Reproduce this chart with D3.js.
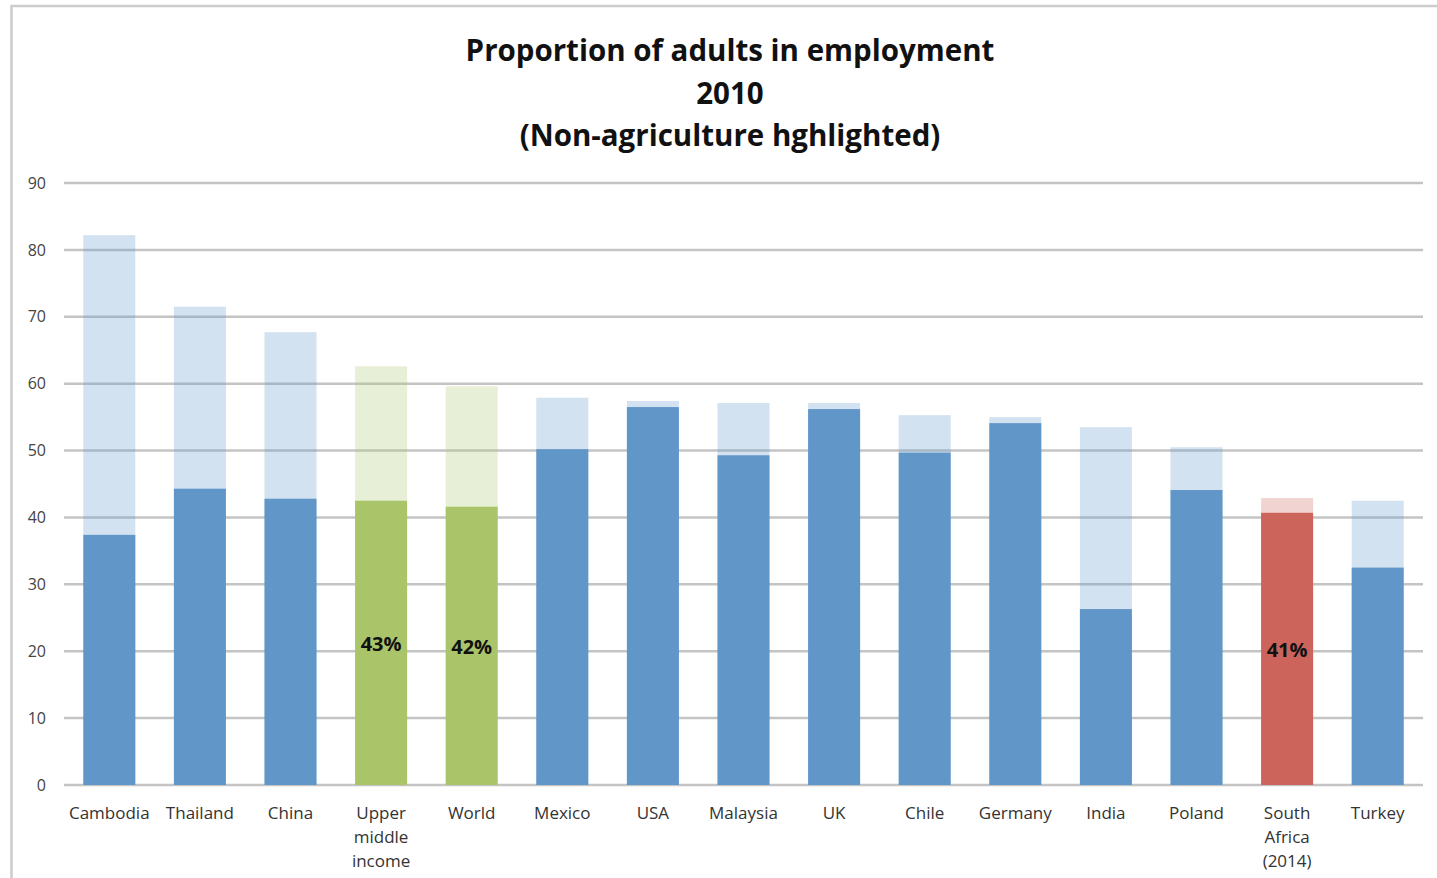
<!DOCTYPE html>
<html><head><meta charset="utf-8">
<script src="https://cdn.jsdelivr.net/npm/d3@7"></script>
<style>
html,body{margin:0;padding:0;background:#fff;}
svg{display:block;}
</style></head>
<body>
<svg id="chart" width="1437" height="878"></svg>
<script>
const categories = ["Cambodia","Thailand","China","Upper middle income","World","Mexico","USA","Malaysia","UK","Chile","Germany","India","Poland","South Africa (2014)","Turkey"];
const categoryLines = [["Cambodia"],["Thailand"],["China"],["Upper","middle","income"],["World"],["Mexico"],["USA"],["Malaysia"],["UK"],["Chile"],["Germany"],["India"],["Poland"],["South","Africa","(2014)"],["Turkey"]];
const totalEmployment = [82.2,71.5,67.7,62.6,59.6,57.9,57.4,57.1,57.1,55.3,55.0,53.5,50.5,42.9,42.5];
const nonAgriculture = [37.4,44.3,42.8,42.5,41.6,50.2,56.5,49.3,56.2,49.7,54.1,26.3,44.1,40.7,32.5];
const highlight = ["blue","blue","blue","green","green","blue","blue","blue","blue","blue","blue","blue","blue","red","blue"];
const dataLabels = ["","","","43%","42%","","","","","","","","","41%",""];
const yTicks = [0,10,20,30,40,50,60,70,80,90];
const titleLines = ["Proportion of adults in employment","2010","(Non-agriculture hghlighted)"];

const colors = {blue:"#6096c8", green:"#aac46a", red:"#cc645c"};

const svg = d3.select("#chart");
const plotLeft = 64, plotRight = 1423, plotTop = 183, plotBottom = 785;

// frame
svg.append("rect").attr("x",11.5).attr("y",6).attr("width",1440).attr("height",900)
  .attr("fill","none").attr("stroke","#cccccc").attr("stroke-width",2.5);

const x = d3.scaleBand().domain(categories).range([plotLeft,plotRight]).paddingInner(0.426).paddingOuter(0.213);
const y = d3.scaleLinear().domain([0,90]).range([plotBottom,plotTop]);

// title
svg.append("g").selectAll("text").data(titleLines).join("text")
  .attr("x",730).attr("y",(d,i)=>61+i*42.5)
  .attr("text-anchor","middle")
  .attr("font-family","'Open Sans', sans-serif").attr("font-weight","bold")
  .attr("font-size",29.5).attr("fill","#111")
  .text(d=>d);

// gridlines
svg.append("g").selectAll("line").data(yTicks).join("line")
  .attr("x1",plotLeft).attr("x2",plotRight)
  .attr("y1",d=>y(d)).attr("y2",d=>y(d))
  .attr("stroke","#c4c4c4").attr("stroke-width",2.5);

// y axis labels
const yAxis = d3.axisLeft(y).tickValues(yTicks).tickSize(0).tickPadding(0);
const yg = svg.append("g").attr("transform",`translate(46,0)`).call(yAxis);
yg.select(".domain").remove();
yg.selectAll("text").attr("font-family","'Open Sans', sans-serif").attr("font-size",16).attr("fill","#444");

// total (light) bars
svg.append("g").selectAll("rect").data(categories).join("rect")
  .attr("x",d=>x(d)).attr("width",x.bandwidth())
  .attr("y",(d,i)=>y(totalEmployment[i]))
  .attr("height",(d,i)=>y(0)-y(totalEmployment[i]))
  .attr("fill",(d,i)=>colors[highlight[i]]).attr("fill-opacity",0.28);

// non-agriculture bars
svg.append("g").selectAll("rect").data(categories).join("rect")
  .attr("x",d=>x(d)).attr("width",x.bandwidth())
  .attr("y",(d,i)=>y(nonAgriculture[i]))
  .attr("height",(d,i)=>y(0)-y(nonAgriculture[i]))
  .attr("fill",(d,i)=>colors[highlight[i]]);

// data labels
svg.append("g").selectAll("text").data(categories).join("text")
  .attr("x",d=>x(d)+x.bandwidth()/2)
  .attr("y",(d,i)=>y(nonAgriculture[i]/2)+8)
  .attr("text-anchor","middle")
  .attr("font-family","'Open Sans', sans-serif").attr("font-weight","bold")
  .attr("font-size",20).attr("fill","#111")
  .text((d,i)=>dataLabels[i]);

// x axis labels
const xg = svg.append("g");
categories.forEach((c,i)=>{
  const t = xg.append("text")
    .attr("x",x(c)+x.bandwidth()/2)
    .attr("y",819)
    .attr("text-anchor","middle")
    .attr("font-family","'Open Sans', sans-serif").attr("font-size",17).attr("fill","#333");
  categoryLines[i].forEach((ln,j)=>{
    t.append("tspan").attr("x",x(c)+x.bandwidth()/2).attr("dy",j===0?0:24).text(ln);
  });
});
</script>
</body></html>
